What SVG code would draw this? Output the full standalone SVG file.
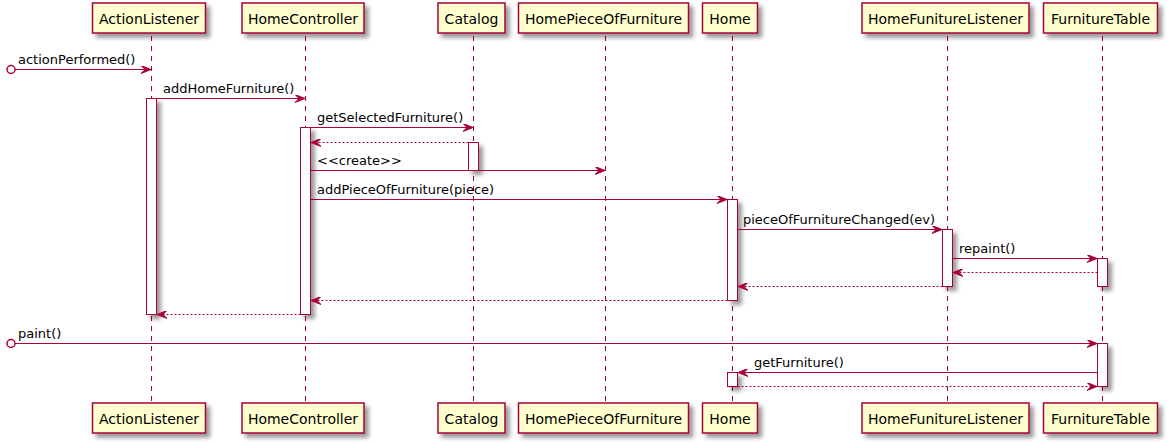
<svg xmlns="http://www.w3.org/2000/svg" width="1167" height="443" viewBox="0 0 1167 443">
<defs>
<filter id="sh" x="-1" y="-1" width="300%" height="300%">
<feGaussianBlur in="SourceAlpha" stdDeviation="2" result="b"/>
<feColorMatrix in="b" type="matrix" values="0 0 0 0 0 0 0 0 0 0 0 0 0 0 0 0 0 0 0.4 0" result="c"/>
<feOffset in="c" dx="4" dy="4" result="o"/>
<feBlend in="SourceGraphic" in2="o" mode="normal"/>
</filter>
<marker id="ah" viewBox="0 0 10 8" refX="10" refY="4" markerWidth="10" markerHeight="8" markerUnits="userSpaceOnUse" orient="auto">
<polygon points="0,0 10,4 0,8 4,4" fill="#A80036" stroke="#A80036" stroke-width="1"/>
</marker>
</defs>
<style>
.box{fill:#FEFECE;stroke:#A80036;stroke-width:1.5;filter:url(#sh)}
.act{fill:#FFFFFF;stroke:#A80036;stroke-width:1;filter:url(#sh)}
.life{stroke:#A80036;stroke-width:1;stroke-dasharray:5,5;fill:none}
.msg{stroke:#A80036;stroke-width:1;fill:none;marker-end:url(#ah)}
.ret{stroke:#A80036;stroke-width:1;fill:none;stroke-dasharray:2,2;marker-end:url(#ah)}
.pt{font-family:"DejaVu Sans",sans-serif;font-size:14px;fill:#000;text-anchor:middle}
.mt{font-family:"DejaVu Sans",sans-serif;font-size:13px;fill:#000}
.found{fill:none;stroke:#A80036;stroke-width:1.5}
</style>
<rect width="1167" height="443" fill="#FFFFFF"/>
<g id="lifelines">
<line class="life" x1="151.5" y1="36" x2="151.5" y2="403"/>
<line class="life" x1="305.5" y1="36" x2="305.5" y2="403"/>
<line class="life" x1="473.5" y1="36" x2="473.5" y2="403"/>
<line class="life" x1="605.5" y1="36" x2="605.5" y2="403"/>
<line class="life" x1="732.5" y1="36" x2="732.5" y2="403"/>
<line class="life" x1="947.5" y1="36" x2="947.5" y2="403"/>
<line class="life" x1="1102.5" y1="36" x2="1102.5" y2="403"/>
</g>
<g id="ActionListener">
<rect class="box" x="92.5" y="3" width="113" height="30"/>
<text class="pt" x="149" y="23.5">ActionListener</text>
<rect class="box" x="92.5" y="403" width="113" height="30"/>
<text class="pt" x="149" y="423.5">ActionListener</text>
<rect class="act" x="146.5" y="98.5" width="10" height="216"/>
</g>
<g id="HomeController">
<rect class="box" x="242" y="3" width="122" height="30"/>
<text class="pt" x="303" y="23.5">HomeController</text>
<rect class="box" x="242" y="403" width="122" height="30"/>
<text class="pt" x="303" y="423.5">HomeController</text>
<rect class="act" x="300.5" y="127.5" width="10" height="187"/>
</g>
<g id="Catalog">
<rect class="box" x="438" y="3" width="67" height="30"/>
<text class="pt" x="471.5" y="23.5">Catalog</text>
<rect class="box" x="438" y="403" width="67" height="30"/>
<text class="pt" x="471.5" y="423.5">Catalog</text>
<rect class="act" x="468.5" y="142.5" width="10" height="28"/>
</g>
<g id="HomePieceOfFurniture">
<rect class="box" x="518.5" y="3" width="170" height="30"/>
<text class="pt" x="603.5" y="23.5">HomePieceOfFurniture</text>
<rect class="box" x="518.5" y="403" width="170" height="30"/>
<text class="pt" x="603.5" y="423.5">HomePieceOfFurniture</text>
</g>
<g id="Home">
<rect class="box" x="702.5" y="3" width="55" height="30"/>
<text class="pt" x="730" y="23.5">Home</text>
<rect class="box" x="702.5" y="403" width="55" height="30"/>
<text class="pt" x="730" y="423.5">Home</text>
<rect class="act" x="727.5" y="199.5" width="10" height="101"/>
<rect class="act" x="727.5" y="372.5" width="10" height="14"/>
</g>
<g id="HomeFunitureListener">
<rect class="box" x="862" y="3" width="167" height="30"/>
<text class="pt" x="945.5" y="23.5">HomeFunitureListener</text>
<rect class="box" x="862" y="403" width="167" height="30"/>
<text class="pt" x="945.5" y="423.5">HomeFunitureListener</text>
<rect class="act" x="942.5" y="229.5" width="10" height="57"/>
</g>
<g id="FurnitureTable">
<rect class="box" x="1043.5" y="3" width="114" height="30"/>
<text class="pt" x="1100.5" y="23.5">FurnitureTable</text>
<rect class="box" x="1043.5" y="403" width="114" height="30"/>
<text class="pt" x="1100.5" y="423.5">FurnitureTable</text>
<rect class="act" x="1097.5" y="258.5" width="10" height="28"/>
<rect class="act" x="1097.5" y="343.5" width="10" height="43"/>
</g>
<g id="connectors">
<circle class="found" cx="11" cy="69.5" r="4"/>
<line class="msg" x1="15" y1="69.5" x2="151" y2="69.5"/>
<text class="mt" x="18" y="64">actionPerformed()</text>
<line class="msg" x1="156.5" y1="98.5" x2="305" y2="98.5"/>
<text class="mt" x="163" y="93">addHomeFurniture()</text>
<line class="msg" x1="310.5" y1="127.5" x2="473" y2="127.5"/>
<text class="mt" x="317" y="122">getSelectedFurniture()</text>
<line class="ret" x1="468.5" y1="142.5" x2="311" y2="142.5"/>
<line class="msg" x1="310.5" y1="170.5" x2="605" y2="170.5"/>
<text class="mt" x="317" y="165">&lt;&lt;create&gt;&gt;</text>
<line class="msg" x1="310.5" y1="199.5" x2="727" y2="199.5"/>
<text class="mt" x="317" y="194">addPieceOfFurniture(piece)</text>
<line class="msg" x1="737.5" y1="229.5" x2="942" y2="229.5"/>
<text class="mt" x="743" y="224">pieceOfFurnitureChanged(ev)</text>
<line class="msg" x1="952.5" y1="258.5" x2="1097" y2="258.5"/>
<text class="mt" x="959" y="253">repaint()</text>
<line class="ret" x1="1097.5" y1="272.5" x2="953" y2="272.5"/>
<line class="ret" x1="942.5" y1="286.5" x2="738" y2="286.5"/>
<line class="ret" x1="727.5" y1="300.5" x2="311" y2="300.5"/>
<line class="ret" x1="300.5" y1="314.5" x2="157" y2="314.5"/>
<circle class="found" cx="11" cy="343.5" r="4"/>
<line class="msg" x1="15" y1="343.5" x2="1097" y2="343.5"/>
<text class="mt" x="18" y="338">paint()</text>
<line class="msg" x1="1097.5" y1="372.5" x2="738" y2="372.5"/>
<text class="mt" x="754" y="367">getFurniture()</text>
<line class="ret" x1="737.5" y1="386.5" x2="1097" y2="386.5"/>
</g>
</svg>
